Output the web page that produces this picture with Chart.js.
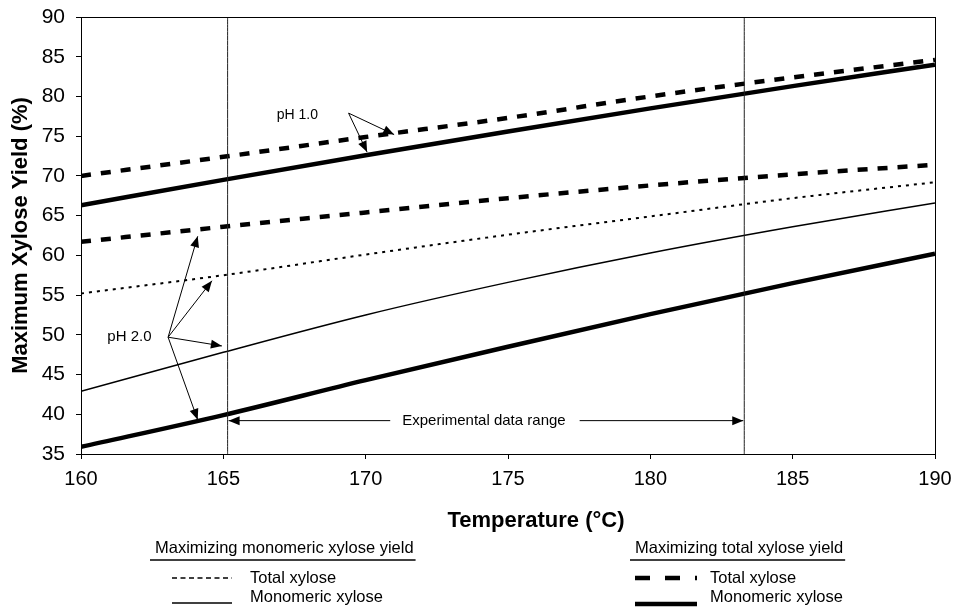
<!DOCTYPE html>
<html>
<head>
<meta charset="utf-8">
<script src="https://cdn.jsdelivr.net/npm/chart.js@4"></script>
<style>
  html, body { margin: 0; padding: 0; background: #fff; }
  #wrap { width: 963px; height: 612px; }
</style>
</head>
<body>
<div id="wrap"><canvas id="xyloseChart" width="963" height="612"></canvas></div>
<script>
// temperatures (°C) at which curves were read
const temps = [160, 165, 170, 175, 180, 185, 190];

// maximizing total xylose yield (thick lines)
const ph1TotalMaxTotal = [70.0, 72.4, 74.9, 77.3, 80.0, 82.4, 84.6];
const ph1MonoMaxTotal  = [66.3, 69.5, 72.6, 75.6, 78.5, 81.3, 84.0];
const ph2TotalMaxTotal = [61.7, 63.6, 65.4, 67.2, 68.8, 70.2, 71.4];
const ph2MonoMaxTotal  = [35.9, 39.9, 44.3, 48.5, 52.6, 56.5, 60.2];

// maximizing monomeric xylose yield (thin lines, pH 2.0)
const ph2TotalMaxMono = [55.2, 57.5, 60.1, 62.6, 64.9, 67.2, 69.2];
const ph2MonoMaxMono  = [42.9, 47.8, 52.5, 56.6, 60.3, 63.6, 66.6];

// experimental data range (°C) and the y level of its arrow
const expRange = [165.15, 183.3];
const expArrowY = 39.2;

// annotation anchors in data units
const ph1Label = [167.6, 77.6];
const ph1From = [169.4, 77.9];
const ph1Targets = [[171.0, 75.2], [170.05, 73.0]];
const ph2Label = [161.7, 49.7];
const ph2From = [163.06, 49.7];
const ph2Targets = [[164.1, 62.4], [164.6, 56.8], [164.95, 48.6], [164.1, 39.3]];

const yTicks = [35, 90];
const xTicks = [160, 190];

const pts = ys => temps.map((t, i) => ({x: t, y: ys[i]}));
const FONT = '"Liberation Sans", Arial, sans-serif';

function arrowHead(ctx, x1, y1, x2, y2, len, half) {
  const a = Math.atan2(y2 - y1, x2 - x1);
  ctx.beginPath();
  ctx.moveTo(x2, y2);
  ctx.lineTo(x2 - len * Math.cos(a) + half * Math.sin(a), y2 - len * Math.sin(a) - half * Math.cos(a));
  ctx.lineTo(x2 - len * Math.cos(a) - half * Math.sin(a), y2 - len * Math.sin(a) + half * Math.cos(a));
  ctx.closePath();
  ctx.fill();
}

function arrow(ctx, x1, y1, x2, y2) {
  ctx.beginPath();
  ctx.moveTo(x1, y1);
  ctx.lineTo(x2, y2);
  ctx.stroke();
  arrowHead(ctx, x1, y1, x2, y2, 11, 4.5);
}

const extras = {
  id: 'extras',
  afterDatasetsDraw(chart) {
    const {ctx, chartArea: a, scales: {x, y}} = chart;
    ctx.save();
    ctx.strokeStyle = '#000';
    ctx.fillStyle = '#000';
    ctx.lineWidth = 1;
    ctx.setLineDash([]);
    ctx.strokeRect(a.left + 0.5, a.top + 0.5, a.right - a.left, a.bottom - a.top);

    // x axis title, set a little right of the axis centre as in the scan
    ctx.font = 'bold 22px ' + FONT;
    ctx.textAlign = 'center';
    ctx.textBaseline = 'middle';
    ctx.fillText('Temperature (°C)', 536, 521);

    // experimental data range
    const ex1 = x.getPixelForValue(expRange[0]);
    const ex2 = x.getPixelForValue(expRange[1]);
    const ey = y.getPixelForValue(expArrowY);
    ctx.font = '15px ' + FONT;
    const label = 'Experimental data range';
    const mid = (ex1 + ex2) / 2 - 2;
    const tw = ctx.measureText(label).width;
    arrow(ctx, mid - tw / 2 - 12, ey, ex1 + 1, ey);
    arrow(ctx, mid + tw / 2 + 14, ey, ex2 - 1, ey);
    ctx.fillText(label, mid, ey);

    // pH 1.0
    ctx.font = '14px ' + FONT;
    ctx.fillText('pH 1.0', x.getPixelForValue(ph1Label[0]), y.getPixelForValue(ph1Label[1]));
    const p1x = x.getPixelForValue(ph1From[0]), p1y = y.getPixelForValue(ph1From[1]);
    ph1Targets.forEach(t => arrow(ctx, p1x, p1y, x.getPixelForValue(t[0]), y.getPixelForValue(t[1])));

    // pH 2.0
    ctx.font = '15px ' + FONT;
    ctx.fillText('pH 2.0', x.getPixelForValue(ph2Label[0]), y.getPixelForValue(ph2Label[1]));
    const p2x = x.getPixelForValue(ph2From[0]), p2y = y.getPixelForValue(ph2From[1]);
    ph2Targets.forEach(t => arrow(ctx, p2x, p2y, x.getPixelForValue(t[0]), y.getPixelForValue(t[1])));

    // legend blocks under the axis title
    ctx.textAlign = 'left';
    ctx.font = '16.5px ' + FONT;
    const blocks = [
      {x: 155, lineX: [172, 232], textX: 250, head: 'Maximizing monomeric xylose yield',
       total: {w: 1.5, dash: [5, 3.5]}, mono: {w: 1.5}, monoY: 603},
      {x: 635, lineX: [635, 697], textX: 710, head: 'Maximizing total xylose yield',
       total: {w: 4.5, dash: [15, 15]}, mono: {w: 4.5}, monoY: 604}
    ];
    blocks.forEach(b => {
      ctx.fillText(b.head, b.x, 548);
      const hw = ctx.measureText(b.head).width;
      ctx.lineWidth = 1.5;
      ctx.setLineDash([]);
      ctx.beginPath();
      ctx.moveTo(b.x - 5, 560);
      ctx.lineTo(b.x + hw + 2, 560);
      ctx.stroke();

      ctx.lineWidth = b.total.w;
      ctx.setLineDash(b.total.dash);
      ctx.beginPath();
      ctx.moveTo(b.lineX[0], 578);
      ctx.lineTo(b.lineX[1], 578);
      ctx.stroke();
      ctx.fillText('Total xylose', b.textX, 578);

      ctx.lineWidth = b.mono.w;
      ctx.setLineDash([]);
      ctx.beginPath();
      ctx.moveTo(b.lineX[0], b.monoY);
      ctx.lineTo(b.lineX[1], b.monoY);
      ctx.stroke();
      ctx.fillText('Monomeric xylose', b.textX, 597);
    });
    ctx.restore();
  }
};

const lineDefaults = {pointRadius: 0, borderColor: '#000', fill: false, cubicInterpolationMode: 'monotone'};

new Chart(document.getElementById('xyloseChart'), {
  type: 'line',
  data: {
    datasets: [
      {...lineDefaults, label: 'range start', data: [{x: expRange[0], y: yTicks[0]}, {x: expRange[0], y: yTicks[1]}], borderColor: '#222', borderWidth: 1},
      {...lineDefaults, label: 'range end', data: [{x: expRange[1], y: yTicks[0]}, {x: expRange[1], y: yTicks[1]}], borderColor: '#222', borderWidth: 1},
      {...lineDefaults, label: 'pH 2.0 total (max monomeric)', data: pts(ph2TotalMaxMono), borderWidth: 2, borderDash: [3, 5]},
      {...lineDefaults, label: 'pH 2.0 monomeric (max monomeric)', data: pts(ph2MonoMaxMono), borderWidth: 1.5},
      {...lineDefaults, label: 'pH 1.0 total (max total)', data: pts(ph1TotalMaxTotal), borderWidth: 4.5, borderDash: [10, 10]},
      {...lineDefaults, label: 'pH 1.0 monomeric (max total)', data: pts(ph1MonoMaxTotal), borderWidth: 4.5},
      {...lineDefaults, label: 'pH 2.0 total (max total)', data: pts(ph2TotalMaxTotal), borderWidth: 4.5, borderDash: [10, 10]},
      {...lineDefaults, label: 'pH 2.0 monomeric (max total)', data: pts(ph2MonoMaxTotal), borderWidth: 4.5}
    ]
  },
  options: {
    responsive: false,
    animation: false,
    layout: {padding: {top: 17, right: 28, bottom: 78, left: 0}},
    plugins: {legend: {display: false}, tooltip: {enabled: false}},
    scales: {
      x: {
        type: 'linear',
        min: xTicks[0], max: xTicks[1],
        ticks: {stepSize: 5, color: '#000', padding: 8, font: {family: FONT, size: 20}},
        grid: {display: true, drawOnChartArea: false, drawTicks: true, tickLength: 5, color: '#000'},
        border: {display: true, color: '#000', width: 1},
        title: {display: false},
        afterFit: s => { s.height = 80; }
      },
      y: {
        min: yTicks[0], max: yTicks[1],
        ticks: {stepSize: 5, color: '#000', padding: 11, font: {family: FONT, size: 21}},
        grid: {display: true, drawOnChartArea: false, drawTicks: true, tickLength: 5, color: '#000'},
        border: {display: true, color: '#000', width: 1},
        title: {display: true, text: 'Maximum Xylose Yield (%)', color: '#000', padding: {top: 8, bottom: 0},
                font: {family: FONT, size: 22, weight: 'bold'}},
        afterFit: s => { s.width = 81; s.paddingTop = 0; s.paddingBottom = 0; }
      }
    }
  },
  plugins: [extras]
});
</script>
</body>
</html>
